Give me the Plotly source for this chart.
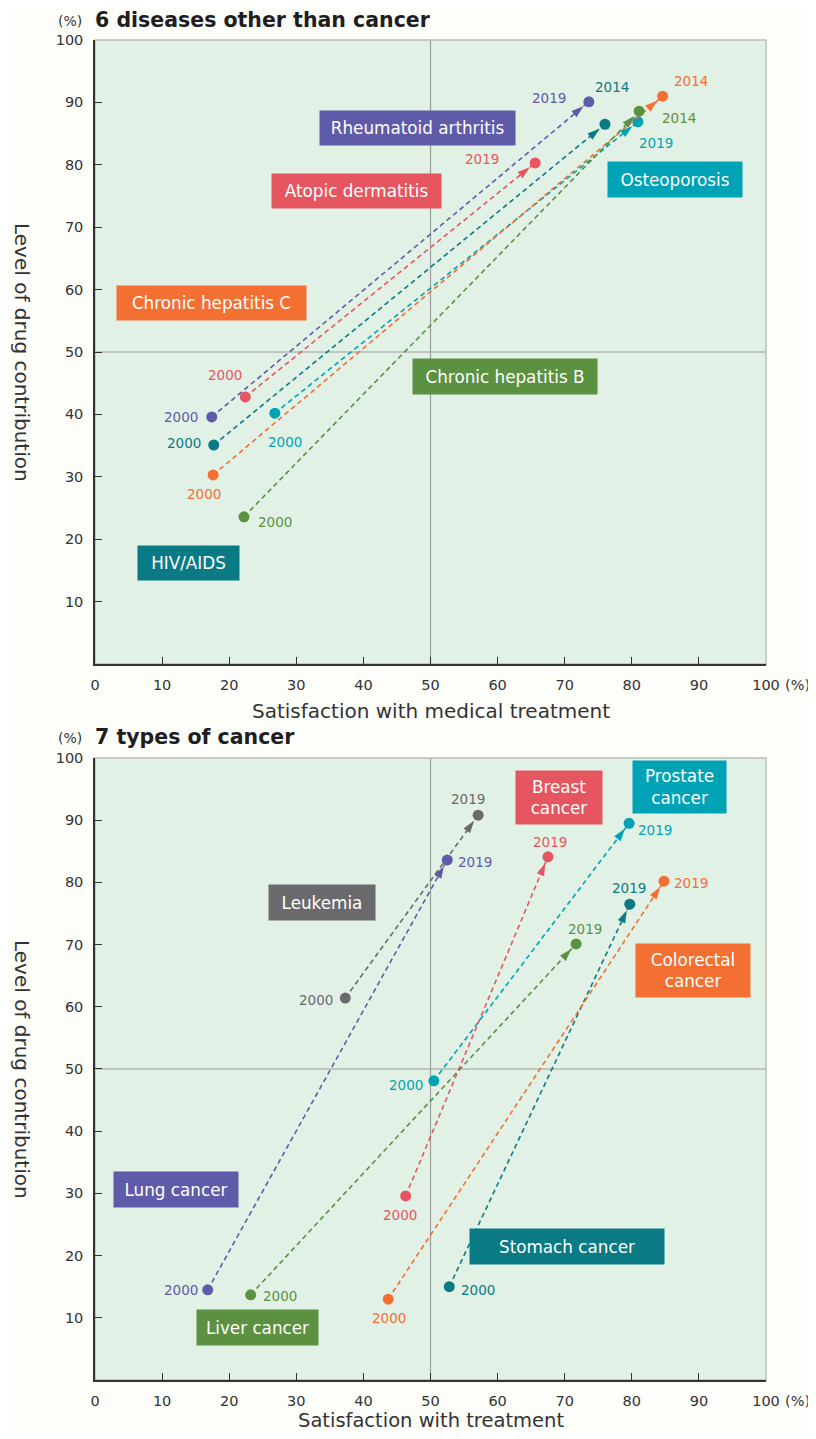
import plotly.graph_objects as go
import math

# ---------------- DATA ----------------
# Top chart: 6 diseases other than cancer
top_names = ["Rheumatoid arthritis", "Atopic dermatitis", "Osteoporosis",
             "Chronic hepatitis C", "HIV/AIDS", "Chronic hepatitis B"]
top_x_start = [17.4, 22.4, 26.8, 17.6, 17.7, 22.2]
top_y_start = [39.6, 42.8, 40.2, 30.3, 35.1, 23.6]
top_x_end = [73.6, 65.6, 80.9, 84.6, 76.0, 81.1]
top_y_end = [90.1, 80.3, 86.9, 91.0, 86.5, 88.6]
top_year_start = ["2000", "2000", "2000", "2000", "2000", "2000"]
top_year_end = ["2019", "2019", "2019", "2014", "2014", "2014"]

# Bottom chart: 7 types of cancer
bot_names = ["Leukemia", "Lung cancer", "Breast<br>cancer", "Prostate<br>cancer",
             "Liver cancer", "Stomach cancer", "Colorectal<br>cancer"]
bot_x_start = [37.3, 16.8, 46.3, 50.5, 23.2, 52.8, 43.7]
bot_y_start = [61.4, 14.5, 29.6, 48.1, 13.7, 15.0, 13.0]
bot_x_end = [57.1, 52.5, 67.5, 79.6, 71.7, 79.7, 84.8]
bot_y_end = [90.8, 83.6, 84.1, 89.5, 70.1, 76.5, 80.2]
bot_year_start = ["2000"] * 7
bot_year_end = ["2019"] * 7

x_ticks = [0, 10, 20, 30, 40, 50, 60, 70, 80, 90, 100]
y_ticks = [10, 20, 30, 40, 50, 60, 70, 80, 90, 100]

# ---------------- STYLE ----------------
PURPLE = "#5F5BA8"
RED = "#E65661"
CYAN = "#00A3B5"
ORANGE = "#F36F32"
TEAL = "#0A7A85"
GREEN = "#5B9141"
GRAY = "#6A6A6C"

top_colors = [PURPLE, RED, CYAN, ORANGE, TEAL, GREEN]
bot_colors = [GRAY, PURPLE, RED, CYAN, GREEN, TEAL, ORANGE]

# label boxes (centre in data units, size in px)
top_box_x = [48.1, 39.0, 86.4, 17.4, 14.0, 61.1]
top_box_y = [85.9, 75.8, 77.6, 57.9, 16.2, 46.0]
top_box_w = [195, 169, 134, 189, 101, 184]
top_box_h = [34, 34, 35, 34, 34, 35]

bot_box_x = [33.8, 12.1, 69.2, 87.1, 24.2, 70.3, 89.1]
bot_box_y = [76.8, 30.7, 93.6, 95.3, 8.5, 21.5, 65.8]
bot_box_w = [106, 124, 86, 93, 121, 194, 114]
bot_box_h = [35, 35, 53, 52, 35, 35, 53]

# year label offsets in px (dx, dy up-positive)
top_end_off = [(-40, 4), (-53, 4), (18, -21), (28, 15), (7, 37), (40, -7)]
top_start_off = [(-31, 0), (-20, 22), (10, -29), (-9, -19), (-30, 2), (31, -5)]
bot_end_off = [(-10, 16), (28, -2), (2, 15), (26, -7), (9, 15), (-1, 16), (27, -2)]
bot_start_off = [(-29, -2), (-27, 0), (-6, -19), (-28, -4), (29, -1), (29, -3), (1, -19)]

FONT = "DejaVu Sans"
PX_X = 6.71
PX_Y = [6.24, 6.22]

fig = go.Figure()
annotations = []
shapes = []


def add_panel(idx, names, xs, ys, xe, ye, yrs, yre, colors,
              bx, by, bw, bh, eoff, soff):
    xa = "x" if idx == 0 else "x2"
    ya = "y" if idx == 0 else "y2"
    pxy = PX_Y[idx]
    for i in range(len(names)):
        c = colors[i]
        dxp = (xe[i] - xs[i]) * PX_X
        dyp = (ye[i] - ys[i]) * pxy
        L = math.hypot(dxp, dyp)
        ux, uy = dxp / L, dyp / L
        tipx = xe[i] - ux * 7 / PX_X
        tipy = ye[i] - uy * 7 / pxy
        tailx = xe[i] - ux * 20 / PX_X
        taily = ye[i] - uy * 20 / pxy
        # dashed connector
        fig.add_trace(go.Scatter(
            x=[xs[i], xe[i]], y=[ys[i], ye[i]], xaxis=xa, yaxis=ya,
            mode="lines", line=dict(color=c, width=1.6, dash="5px,3.5px"),
            hoverinfo="skip", showlegend=False))
        # arrowhead (oriented along the connector)
        fig.add_trace(go.Scatter(
            x=[tailx, tipx], y=[taily, tipy], xaxis=xa, yaxis=ya,
            mode="markers",
            marker=dict(color=c, size=[1, 13], symbol=["circle", "arrow"],
                        angleref="previous", opacity=1, line=dict(width=0)),
            hoverinfo="skip", showlegend=False))
        # start / end points
        fig.add_trace(go.Scatter(
            x=[xs[i], xe[i]], y=[ys[i], ye[i]], xaxis=xa, yaxis=ya,
            mode="markers", marker=dict(color=c, size=11, opacity=1, line=dict(width=0)),
            hoverinfo="skip", showlegend=False))
        # year labels
        annotations.append(dict(
            x=xe[i], y=ye[i], xref=xa, yref=ya, text=yre[i], showarrow=False,
            xshift=eoff[i][0], yshift=eoff[i][1],
            font=dict(family=FONT, size=13.5, color=c)))
        annotations.append(dict(
            x=xs[i], y=ys[i], xref=xa, yref=ya, text=yrs[i], showarrow=False,
            xshift=soff[i][0], yshift=soff[i][1],
            font=dict(family=FONT, size=13.5, color=c)))
        # label box
        annotations.append(dict(
            x=bx[i], y=by[i], xref=xa, yref=ya, text=names[i], showarrow=False,
            width=bw[i], height=bh[i], bgcolor=c, borderpad=0,
            font=dict(family=FONT, size=16.8, color="white"), align="center",
            valign="middle"))
    # mid lines
    shapes.append(dict(type="line", xref=xa, yref=ya + " domain", x0=50, x1=50,
                       y0=0, y1=1, line=dict(color="#9C9C9C", width=1.2), layer="below"))
    shapes.append(dict(type="line", xref=xa + " domain", yref=ya, x0=0, x1=1,
                       y0=50, y1=50, line=dict(color="#9C9C9C", width=1.2), layer="below"))
    # light border (top / right)
    shapes.append(dict(type="rect", xref=xa + " domain", yref=ya + " domain",
                       x0=0, x1=1, y0=0, y1=1,
                       line=dict(color="#B8BDB9", width=1.5), layer="below"))


add_panel(0, top_names, top_x_start, top_y_start, top_x_end, top_y_end,
          top_year_start, top_year_end, top_colors,
          top_box_x, top_box_y, top_box_w, top_box_h, top_end_off, top_start_off)
add_panel(1, bot_names, bot_x_start, bot_y_start, bot_x_end, bot_y_end,
          bot_year_start, bot_year_end, bot_colors,
          bot_box_x, bot_box_y, bot_box_w, bot_box_h, bot_end_off, bot_start_off)

# titles and axis texts
titles = ["6 diseases other than cancer", "7 types of cancer"]
xtitles = ["Satisfaction with medical treatment", "Satisfaction with treatment"]
title_shift = [20, 21]
xtitle_shift = [-47, -40]
xtitle_size = [20, 19.5]
for k, (xa, ya) in enumerate([("x", "y"), ("x2", "y2")]):
    annotations.append(dict(
        x=0, y=1, xref=xa + " domain", yref=ya + " domain", text="<b>" + titles[k] + "</b>",
        showarrow=False, xanchor="left", yanchor="middle", yshift=title_shift[k], xshift=-2,
        font=dict(family=FONT, size=20.5, color="#1E1E1E")))
    annotations.append(dict(
        x=0, y=1, xref=xa + " domain", yref=ya + " domain", text="(%)",
        showarrow=False, xanchor="right", yanchor="middle", yshift=title_shift[k] - 1, xshift=-11,
        font=dict(family=FONT, size=14, color="#333333")))
    annotations.append(dict(
        x=100, y=0, xref=xa, yref=ya + " domain", text="(%)",
        showarrow=False, xanchor="left", yanchor="middle", yshift=-21, xshift=17,
        font=dict(family=FONT, size=14.5, color="#333333")))
    annotations.append(dict(
        x=0.5, y=0, xref=xa + " domain", yref=ya + " domain", text=xtitles[k],
        showarrow=False, xanchor="center", yanchor="middle", yshift=xtitle_shift[k],
        font=dict(family=FONT, size=xtitle_size[k], color="#333333")))
    annotations.append(dict(
        x=0, y=0.5, xref=xa + " domain", yref=ya + " domain", text="Level of drug contribution",
        showarrow=False, textangle=90, xanchor="center", yanchor="middle", xshift=-73,
        font=dict(family=FONT, size=20, color="#333333")))

axis_common = dict(showgrid=False, zeroline=False, showline=True, linecolor="#333333",
                   linewidth=1.5, ticks="inside", ticklen=7, tickwidth=1.2,
                   tickcolor="#333333", tickfont=dict(family=FONT, size=14.5, color="#333333"),
                   range=[0, 100], fixedrange=True)

# the page body has an 8px margin, so the figure is sized to fit inside the window
fig.update_layout(
    width=808, height=1423,
    margin=dict(l=87, r=50, t=32, b=51),
    paper_bgcolor="#FDFDFA",
    plot_bgcolor="#E2F1E6",
    showlegend=False,
    xaxis=dict(axis_common, domain=[0, 1], anchor="y", tickvals=x_ticks, ticklabelstandoff=7),
    yaxis=dict(axis_common, domain=[0.5343, 1], anchor="x", tickvals=y_ticks, ticklabelstandoff=7),
    xaxis2=dict(axis_common, domain=[0, 1], anchor="y2", tickvals=x_ticks, ticklabelstandoff=7),
    yaxis2=dict(axis_common, domain=[0, 0.4642], anchor="x2", tickvals=y_ticks, ticklabelstandoff=7),
    annotations=annotations,
    shapes=shapes,
)

fig.write_html("out.html")
